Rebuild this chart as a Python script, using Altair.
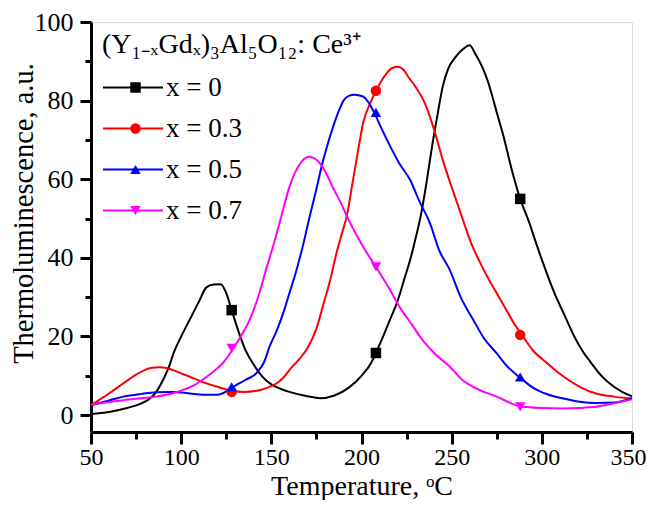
import altair as alt
import pandas as pd

SERIF = "Liberation Serif"

series_names = ["x = 0", "x = 0.3", "x = 0.5", "x = 0.7"]
colors = ["#000000", "#ff0000", "#0000ff", "#ff00ff"]
shapes = ["square", "circle", "triangle-up", "triangle-down"]

# x = 0
t_x0 = [50, 60, 70, 77, 82, 86, 90, 93, 96, 100, 105, 110, 114, 118, 122, 125, 128, 132, 136, 140,
        145, 150, 155, 160, 170, 177, 185, 193, 200, 205, 208, 212, 216, 220, 224, 227, 230, 233,
        236, 239, 242, 245, 248, 252, 256, 260, 263, 267, 270, 275, 279, 283, 288, 293, 297, 302,
        307, 312, 318, 323, 327, 333, 340, 345, 350]
y_x0 = [0.3, 0.8, 1.8, 2.8, 4.0, 5.8, 9.0, 12.0, 16.0, 20.0, 24.5, 29.0, 32.5, 33.2, 33.3, 31.0, 26.7,
        21.0, 16.2, 13.0, 9.8, 7.8, 6.7, 5.9, 4.8, 4.3, 5.0, 7.0, 10.0, 13.0, 15.8, 20.0, 24.5, 29.0,
        35.0, 39.5, 45.0, 51.0, 59.0, 68.0, 76.0, 83.5, 88.0, 91.0, 93.0, 94.1, 92.0, 88.5, 85.0,
        77.0, 70.5, 63.0, 55.0, 49.0, 43.5, 37.0, 31.0, 26.0, 20.0, 16.0, 13.5, 10.0, 7.2, 5.8, 4.8]

# x = 0.3
t_x3 = [50, 55, 60, 68, 75, 83, 88, 92, 98, 105, 112, 120, 128, 135, 142, 148, 153, 157, 161, 165,
        170, 175, 179, 183, 186, 189, 192, 195, 198, 201, 205, 208, 211, 214, 217, 220, 223, 226,
        230, 235, 240, 245, 250, 256, 261, 266, 270, 275, 280, 285, 289, 295, 303, 310, 321, 330,
        340, 350]
y_x3 = [2.5, 4.0, 5.5, 8.1, 10.3, 12.0, 12.2, 12.0, 11.0, 9.7, 8.4, 7.2, 6.2, 5.9, 6.2, 7.0, 8.1,
        9.7, 12.0, 14.0, 17.0, 22.0, 28.4, 35.0, 41.0, 46.0, 51.0, 59.0, 67.0, 74.5, 79.5, 82.5,
        85.0, 87.0, 88.3, 88.6, 88.0, 86.0, 83.5, 79.5, 73.0, 65.0, 58.0, 50.0, 43.5, 38.6, 35.0,
        31.0, 27.0, 23.0, 20.4, 16.5, 13.2, 10.5, 7.2, 5.5, 4.7, 4.2]

# x = 0.5
t_x5 = [50, 60, 68, 78, 86, 95, 105, 112, 120, 125, 129, 135, 142, 146, 149, 153, 157, 160, 164,
        168, 171, 175, 178, 181, 184, 188, 190, 193, 196, 199, 201, 204, 207, 211, 216, 221, 227,
        232, 238, 243, 249, 255, 262, 268, 275, 281, 288, 295, 303, 312, 321, 330, 340, 350]
y_x5 = [2.5, 3.7, 4.7, 5.4, 5.8, 5.9, 5.5, 5.2, 5.2, 6.0, 7.2, 8.8, 10.8, 13.5, 17.4, 21.5, 26.5,
        31.0, 37.0, 44.0, 50.0, 57.5, 63.5, 68.5, 73.0, 78.0, 80.0, 81.2, 81.5, 81.3, 81.0, 79.5,
        77.0, 73.0, 68.3, 64.0, 59.8, 54.5, 48.8, 42.0, 36.9, 30.0, 24.2, 19.5, 15.7, 12.3, 9.5,
        7.0, 5.3, 4.2, 3.4, 3.1, 3.2, 4.3]

# x = 0.7
t_x7 = [50, 60, 68, 78, 86, 95, 101, 108, 114, 119, 123, 129, 133, 138, 143, 147, 151, 155, 160,
        166, 171, 177, 181, 184, 188, 192, 197, 202, 208, 215, 221, 228, 234, 241, 249, 256, 265,
        275, 282, 289, 300, 312, 321, 330, 340, 350]
y_x7 = [2.7, 3.3, 3.8, 4.3, 4.7, 5.5, 6.4, 7.8, 9.7, 11.5, 13.2, 17.0, 20.0, 24.2, 30.5, 36.9,
        43.0, 49.6, 58.0, 64.0, 65.7, 64.0, 61.0, 58.0, 54.5, 50.5, 46.0, 42.0, 37.7, 32.5, 27.6,
        23.0, 19.0, 15.5, 12.3, 8.9, 6.5, 4.7, 3.2, 2.1, 1.8, 1.7, 1.8, 2.1, 3.0, 4.0]

# marker points
marker_t = [128, 208, 288]
marker_x0 = [26.7, 15.8, 55.0]
marker_x3 = [5.9, 82.5, 20.4]
marker_x5 = [7.2, 77.0, 9.7]
marker_x7 = [17.0, 37.7, 2.1]

x_major = [50, 100, 150, 200, 250, 300, 350]
x_minor = [75, 125, 175, 225, 275, 325]
y_major = [0, 20, 40, 60, 80, 100]
y_minor = [10, 30, 50, 70, 90]

rows = []
for name, ts, ys in zip(series_names, [t_x0, t_x3, t_x5, t_x7], [y_x0, y_x3, y_x5, y_x7]):
    for t, y in zip(ts, ys):
        rows.append({"T": t, "I": y, "series": name})
df_lines = pd.DataFrame(rows)

prow = []
for name, ys in zip(series_names, [marker_x0, marker_x3, marker_x5, marker_x7]):
    for t, y in zip(marker_t, ys):
        prow.append({"T": t, "I": y, "marker": name})
df_pts = pd.DataFrame(prow)

x_scale = alt.Scale(domain=[50, 350], nice=False, zero=False)
y_scale = alt.Scale(domain=[-4.3, 100], nice=False, zero=False)

major_x = alt.Axis(values=x_major, orient="bottom", title="Temperature, \u1d52C",
                   titleFont=SERIF, titleFontSize=28, titleFontWeight="normal", titleColor="black",
                   titleX=270.5, titleY=62, titleAlign="center", titleBaseline="alphabetic",
                   labelFont=SERIF, labelFontSize=24, labelColor="black", labelPadding=1,
                   labelFlush=False, labelOverlap=False,
                   labelOffset={"condition": {"test": "datum.value == 350", "value": -4}, "value": 0},
                   tickSize=12, tickWidth=3, tickColor="black",
                   domainWidth=3, domainColor="black", grid=False)
major_y = alt.Axis(values=y_major, orient="left", title="Thermoluminescence, a.u.",
                   titleFont=SERIF, titleFontSize=28.5, titleFontWeight="normal", titleColor="black",
                   titleX=-59, titleY=191, titleAngle=270, titleAlign="center",
                   titleBaseline="alphabetic",
                   labelFont=SERIF, labelFontSize=26, labelColor="black", labelPadding=7,
                   labelFlush=False, labelOverlap=False,
                   tickSize=11, tickWidth=3, tickColor="black",
                   domainWidth=3, domainColor="black", grid=False)
minor_x = alt.Axis(values=x_minor, orient="bottom", title=None, labels=False, domain=False,
                   tickSize=7, tickWidth=3, tickColor="black", grid=False)
minor_y = alt.Axis(values=y_minor, orient="left", title=None, labels=False, domain=False,
                   tickSize=6, tickWidth=3, tickColor="black", grid=False)

line_legend = alt.Legend(orient="none", legendX=28.5, legendY=52, title=None,
                         symbolType="M-4,0H4", symbolSize=225, symbolStrokeWidth=2.2,
                         labelFont=SERIF, labelFontSize=27, labelColor="black",
                         labelOffset=19.5, rowPadding=13, padding=0)
marker_legend = alt.Legend(orient="none", legendX=31, legendY=52, title=None,
                           symbolSize=110, symbolStrokeWidth=0,
                           labelFont=SERIF, labelFontSize=27, labelColor="black",
                           labelExpr="''", labelOffset=0, rowPadding=13, padding=0)

lines = alt.Chart(df_lines).mark_line(strokeWidth=2, interpolate="monotone").encode(
    x=alt.X("T:Q", scale=x_scale, axis=major_x),
    y=alt.Y("I:Q", scale=y_scale, axis=major_y),
    color=alt.Color("series:N", scale=alt.Scale(domain=series_names, range=colors),
                    legend=line_legend),
)

points = alt.Chart(df_pts).mark_point(filled=True, size=110, opacity=1, strokeWidth=0).encode(
    x=alt.X("T:Q", scale=x_scale, axis=minor_x),
    y=alt.Y("I:Q", scale=y_scale, axis=minor_y),
    fill=alt.Fill("marker:N", scale=alt.Scale(range=colors), legend=marker_legend),
    shape=alt.Shape("marker:N", scale=alt.Scale(range=shapes), legend=marker_legend),
)

chart = alt.layer(lines, points).resolve_axis(x="independent", y="independent").properties(
    width=541,
    height=410,
    autosize=alt.AutoSizeParams(type="none"),
    padding={"left": 83, "top": 14, "right": 14, "bottom": 68},
    title=alt.TitleParams(text="(Y\u2081\u208b\u2093Gd\u2093)\u2083Al\u2085O\u2081\u2082: Ce\u00b3\u207a",
                          anchor="start", frame="group", orient="top", offset=0,
                          dx=11, dy=71.5, font=SERIF, fontSize=28, fontWeight="normal",
                          color="black", baseline="alphabetic"),
).configure_view(stroke="black", strokeWidth=3).configure(background="white")

chart.save("out.html", embed_options={"renderer": "svg", "actions": False})
